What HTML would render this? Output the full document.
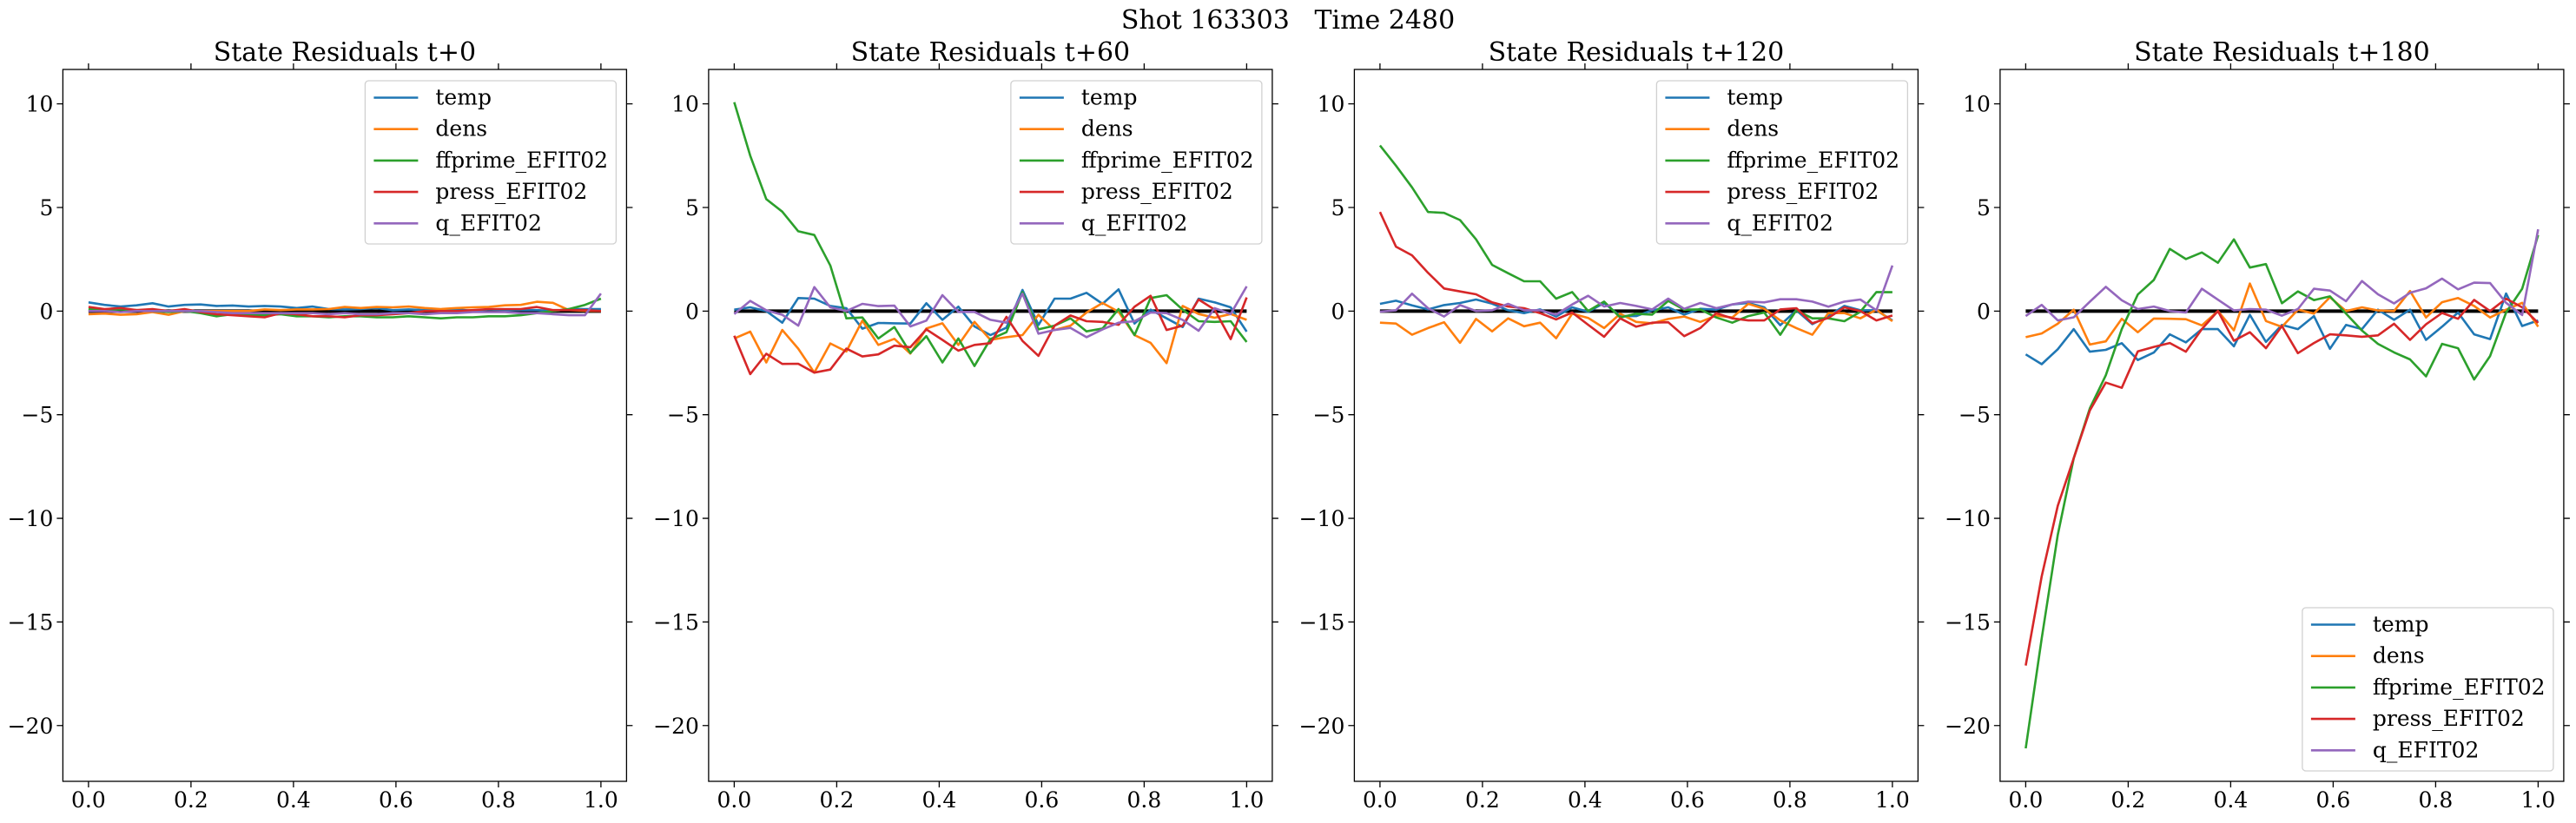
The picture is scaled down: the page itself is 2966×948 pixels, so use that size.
<!DOCTYPE html>
<html><head><meta charset="utf-8"><style>
html,body{margin:0;padding:0;background:#fff;}
svg text{font-family:"DejaVu Serif","Liberation Serif",serif;fill:#000;}
</style></head><body>
<svg id="chart" width="2966" height="943" viewBox="0 0 2966 943" xmlns="http://www.w3.org/2000/svg">
<text x="1483" y="33" font-size="30" text-anchor="middle" style="white-space:pre" xml:space="preserve">Shot 163303   Time 2480</text>
</svg>
<script>
const panelTitles = ["State Residuals t+0","State Residuals t+60","State Residuals t+120","State Residuals t+180"];
const seriesNames = ["temp","dens","ffprime_EFIT02","press_EFIT02","q_EFIT02"];
const seriesColors = ["#1f77b4","#ff7f0e","#2ca02c","#d62728","#9467bd"];
const xTicks = [0.0,0.2,0.4,0.6,0.8,1.0];
const xTickLabels = ["0.0","0.2","0.4","0.6","0.8","1.0"];
const yTicks = [10,5,0,-5,-10,-15,-20];
const yTickLabels = ["10","5","0","\u22125","\u221210","\u221215","\u221220"];
const legendPos = ["upper","upper","upper","lower"];

const p0_temp = [0.42,0.3,0.22,0.28,0.38,0.22,0.3,0.32,0.25,0.27,0.22,0.25,0.22,0.15,0.22,0.1,0.08,0.1,0.15,0.05,0.08,0.05,0.05,0.1,0,0.08,0.05,0.05,0.05,0,0.1,0.1,0.1];
const p0_dens = [-0.15,-0.12,-0.18,-0.15,-0.05,-0.18,0,0,0,0,0,0.08,0.05,0.08,0.08,0.1,0.2,0.15,0.2,0.18,0.22,0.15,0.1,0.15,0.18,0.2,0.28,0.3,0.45,0.4,0.05,0.02,0.0];
const p0_ffp = [0.1,0.05,0.08,0.05,0,-0.05,0,-0.1,-0.25,-0.15,-0.2,-0.2,-0.15,-0.25,-0.25,-0.3,-0.25,-0.25,-0.3,-0.3,-0.25,-0.3,-0.35,-0.3,-0.3,-0.25,-0.25,-0.2,-0.1,0,0.1,0.3,0.6];
const p0_press = [0.2,0.1,0.15,0.05,0.1,0,0.1,-0.05,-0.15,-0.2,-0.25,-0.3,-0.1,-0.15,-0.25,-0.25,-0.3,-0.2,-0.2,-0.15,-0.1,0,0,0,0.05,0.1,0.1,0.1,0.2,0.05,0.05,0.05,0];
const p0_q = [0,0,-0.05,0,0,0,0,0,-0.05,-0.1,-0.1,-0.1,-0.1,-0.1,-0.1,-0.15,-0.1,-0.15,-0.15,-0.1,-0.1,-0.15,-0.1,-0.1,-0.05,-0.05,-0.05,-0.1,-0.1,-0.15,-0.2,-0.2,0.85];

const p1_temp = [0.07,0.18,0,-0.56,0.63,0.6,0.25,0.14,-0.85,-0.57,-0.59,-0.6,0.38,-0.42,0.21,-0.74,-1.16,-0.8,1.02,-0.67,0.6,0.6,0.88,0.35,1.05,-0.6,0.07,-0.35,-0.77,0.6,0.42,0.18,-0.99];
const p1_dens = [-1.32,-0.99,-2.48,-0.91,-1.81,-2.97,-1.56,-1.95,-0.46,-1.63,-1.34,-2.05,-0.84,-0.59,-1.63,-0.52,-1.39,-1.26,-1.16,-0.18,-0.91,-0.7,-0.07,0.39,-0.03,-1.16,-1.53,-2.51,0.25,-0.14,-0.32,-0.14,-0.42];
const p1_ffp = [10.08,7.5,5.4,4.8,3.85,3.67,2.2,-0.35,-0.31,-1.32,-0.77,-2.02,-1.21,-2.48,-1.32,-2.65,-1.35,-1.02,0.91,-0.88,-0.7,-0.35,-0.98,-0.84,0.1,-1.16,0.63,0.77,0.07,-0.49,-0.52,-0.49,-1.49];
const p1_press = [-1.19,-3.04,-2.06,-2.55,-2.54,-2.97,-2.82,-1.81,-2.19,-2.09,-1.67,-1.74,-0.88,-1.39,-1.91,-1.63,-1.55,-0.28,-1.44,-2.16,-0.7,-0.21,-0.49,-0.52,-0.66,0.21,0.74,-0.91,-0.7,0.56,0.07,-1.35,0.66];
const p1_q = [-0.14,0.49,0.04,-0.18,-0.7,1.16,0.18,0,0.35,0.24,0.26,-0.74,-0.46,0.77,-0.04,-0.04,-0.42,-0.56,0.84,-1.09,-0.91,-0.81,-1.26,-0.88,-0.56,-0.49,-0.07,-0.1,-0.42,-0.95,0.14,-0.14,1.19];

const p2_temp = [0.35,0.5,0.28,0.08,0.29,0.39,0.56,0.36,0.04,-0.1,0.08,-0.26,0.18,-0.03,0.39,-0.24,-0.24,0.04,0.18,-0.17,0.11,0.07,0.32,0.39,0.18,-0.68,0.04,-0.63,-0.24,0.25,0.04,0.04,-0.45];
const p2_dens = [-0.56,-0.6,-1.14,-0.82,-0.54,-1.53,-0.38,-0.98,-0.35,-0.73,-0.56,-1.31,-0.13,-0.33,-0.82,-0.13,-0.52,-0.59,-0.38,-0.26,-0.52,-0.21,-0.31,0.35,0.11,-0.45,-0.82,-1.14,-0.1,-0.1,-0.35,0.07,-0.49];
const p2_ffp = [7.99,7.02,5.97,4.78,4.74,4.39,3.46,2.23,1.83,1.44,1.44,0.6,0.92,0,0.46,-0.31,-0.13,-0.17,0.49,0.07,0.08,-0.31,-0.56,-0.24,-0.07,-1.14,0.04,-0.35,-0.35,-0.49,-0.03,0.92,0.91];
const p2_press = [4.78,3.11,2.69,1.85,1.09,0.95,0.81,0.42,0.22,0.14,-0.1,-0.4,-0.07,-0.66,-1.24,-0.35,-0.75,-0.56,-0.54,-1.21,-0.82,-0.1,-0.35,-0.45,-0.45,0.08,0.14,-0.59,-0.33,0.18,0,-0.45,-0.21];
const p2_q = [-0.03,0.04,0.84,0.14,-0.26,0.29,0,0.04,0.35,0.04,0.04,-0.17,0.32,0.74,0.22,0.39,0.25,0.08,0.6,0.11,0.39,0.14,0.32,0.46,0.42,0.57,0.57,0.46,0.21,0.46,0.56,0.04,2.2];

const p3_temp = [-2.09,-2.56,-1.84,-0.87,-1.96,-1.87,-1.55,-2.36,-2.0,-1.12,-1.51,-0.87,-0.87,-1.7,-0.18,-1.49,-0.67,-0.87,-0.24,-1.82,-0.67,-0.87,0.07,-0.42,0.07,-1.39,-0.75,-0.07,-1.12,-1.35,0.85,-0.72,-0.45];
const p3_dens = [-1.26,-1.08,-0.61,0.07,-1.61,-1.46,-0.37,-1.02,-0.36,-0.37,-0.39,-0.69,0,-0.93,1.33,-0.48,-0.76,0.07,-0.12,0.67,0,0.18,0.03,0,0.97,-0.31,0.43,0.63,0.25,-0.31,0.07,0.4,-0.75];
const p3_ffp = [-21.1,-15.8,-10.8,-7.1,-4.7,-3.1,-0.87,0.8,1.5,3.0,2.51,2.83,2.33,3.46,2.1,2.27,0.38,0.95,0.53,0.71,-0.12,-0.94,-1.58,-1.99,-2.33,-3.15,-1.58,-1.79,-3.3,-2.17,-0.07,1.08,3.67];
const p3_press = [-17.1,-12.8,-9.4,-7.1,-4.8,-3.45,-3.7,-1.94,-1.73,-1.54,-1.96,-0.87,0,-1.43,-1.02,-1.79,-0.72,-2.03,-1.54,-1.12,-1.17,-1.24,-1.17,-0.61,-1.39,-0.64,-0.09,-0.37,0.54,0,0.6,0.18,-0.57];
const p3_q = [-0.24,0.3,-0.45,-0.3,0.45,1.17,0.52,0.1,0.22,0,-0.07,1.08,0.55,0.03,0.1,0.07,-0.22,0.1,1.08,0.99,0.48,1.45,0.81,0.37,0.88,1.1,1.57,1.05,1.37,1.35,0.4,-0.19,3.95];

const panelData = [
  [p0_temp,p0_dens,p0_ffp,p0_press,p0_q],
  [p1_temp,p1_dens,p1_ffp,p1_press,p1_q],
  [p2_temp,p2_dens,p2_ffp,p2_press,p2_q],
  [p3_temp,p3_dens,p3_ffp,p3_press,p3_q]
];

const NS = "http://www.w3.org/2000/svg";
const svg = document.getElementById("chart");
function mk(tag, attrs, parent){
  const e = document.createElementNS(NS, tag);
  for (const k in attrs) e.setAttribute(k, attrs[k]);
  (parent||svg).appendChild(e);
  return e;
}
const AX_W = 649, AX_TOP = 80, AX_BOT = 900, STEP = 743.5, LEFT0 = 72.4;
const XMIN = -0.05, XMAX = 1.05, YMIN = -22.69, YMAX = 11.66;

panelData.forEach((series, p) => {
  const L = LEFT0 + p*STEP, R = L + AX_W;
  const xs = v => L + (v - XMIN)/(XMAX - XMIN)*AX_W;
  const ys = v => AX_BOT - (v - YMIN)/(YMAX - YMIN)*(AX_BOT - AX_TOP);
  const g = mk("g", {});
  
  

  const title = mk("text", {x:(L+R)/2, y:70, "font-size":30, "text-anchor":"middle"}, g);
  title.textContent = panelTitles[p];
  
  

  xTicks.forEach((t, i) => {
    const x = xs(t);
    const tk = mk("path", {d:`M${x},${AX_BOT}v7M${x},${AX_TOP}v-7`, stroke:"#000", "stroke-width":1.3}, g);
    
    
    const lb = mk("text", {x:x, y:930, "font-size":25, "text-anchor":"middle"}, g);
    lb.textContent = xTickLabels[i];
    
    
  });
  yTicks.forEach((t, i) => {
    const y = ys(t);
    const tk = mk("path", {d:`M${L},${y}h-7M${R},${y}h7`, stroke:"#000", "stroke-width":1.3}, g);
    
    
    const lb = mk("text", {x:L-11, y:y+9, "font-size":25, "text-anchor":"end"}, g);
    lb.textContent = yTickLabels[i];
    
    
  });

  const zero = mk("line", {x1:xs(0), x2:xs(1), y1:ys(0), y2:ys(0), stroke:"#000", "stroke-width":4}, g);
  
  

  series.forEach((vals, s) => {
    const n = vals.length;
    const pts = vals.map((v, i) => xs(i/(n-1)).toFixed(1) + "," + ys(v).toFixed(1)).join(" ");
    const pl = mk("polyline", {points:pts, fill:"none", stroke:seriesColors[s], "stroke-width":2.6, "stroke-linejoin":"round"}, g);
    
    
  });

  const frame = mk("rect", {x:L, y:AX_TOP, width:AX_W, height:AX_BOT-AX_TOP, fill:"none", stroke:"#000", "stroke-width":1.3}, g);
  
  

  const lw = 289, lh = 188;
  const lx = R - 12 - lw;
  const ly = legendPos[p] === "upper" ? AX_TOP + 13 : AX_BOT - 12 - lh;
  const lg = mk("g", {}, g);
  
  
  mk("rect", {x:lx, y:ly, width:lw, height:lh, rx:4, fill:"#fff", "fill-opacity":0.8, stroke:"#d0d0d0", "stroke-width":1.3}, lg);
  seriesNames.forEach((nm, s) => {
    const ry = ly + 19.5 + s*36.2;
    const h = mk("line", {x1:lx+10, x2:lx+61, y1:ry, y2:ry, stroke:seriesColors[s], "stroke-width":2.6}, lg);
    
    
    const t = mk("text", {x:lx+81, y:ry+8, "font-size":25}, lg);
    t.textContent = nm;
    
    
  });
});
</script>
</body></html>
